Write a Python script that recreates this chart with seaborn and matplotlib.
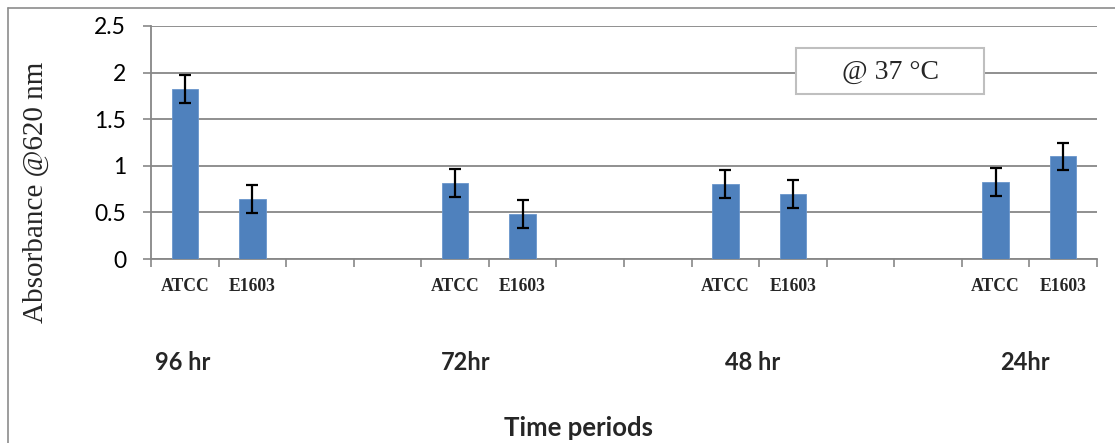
import matplotlib
matplotlib.use("Agg")
import matplotlib.pyplot as plt
import seaborn as sns
import pandas as pd
import numpy as np
from matplotlib.patches import Rectangle
from matplotlib.lines import Line2D
from matplotlib.ticker import FixedLocator

# ---- data ----
groups = ["96 hr", "72hr", "48 hr", "24hr"]
strains = ["ATCC", "E1603"]
atcc_values = [1.82, 0.82, 0.80, 0.83]
e1603_values = [0.64, 0.48, 0.70, 1.10]
atcc_err = [0.15, 0.15, 0.15, 0.15]
e1603_err = [0.15, 0.15, 0.15, 0.15]
y_ticks = [0, 0.5, 1, 1.5, 2, 2.5]
y_tick_labels = ["0", "0.5", "1", "1.5", "2", "2.5"]
y_label = "Absorbance @620 nm"
x_label = "Time periods"
note = "@ 37 °C"

# ---- layout constants ----
W, H = 1115, 443
group_label_x = [-0.03, 4.15, 8.41, 12.43]   # data-x positions of group names
blank_slots_between = 2

sns.set_theme(style="white")
plt.rcParams["font.family"] = ["Lato", "DejaVu Sans"]

# build the slot order (bars + empty gap slots)
rows = []
order = []
for gi, g in enumerate(groups):
    for s, v, e in zip(strains, [atcc_values[gi], e1603_values[gi]],
                       [atcc_err[gi], e1603_err[gi]]):
        key = f"{g}|{s}"
        order.append(key)
        rows.append({"slot": key, "value": v, "err": e, "strain": s})
    if gi < len(groups) - 1:
        for b in range(blank_slots_between):
            order.append(f"gap{gi}_{b}")
df = pd.DataFrame(rows)

fig = plt.figure(figsize=(W / 100, H / 100), dpi=100)
ax = fig.add_axes([151 / W, 1 - 259 / H, (1097 - 151) / W, (259 - 26) / H])

sns.barplot(data=df, x="slot", y="value", order=order, color="#4F81BD",
            saturation=1, width=0.39, errorbar=None, ax=ax,
            edgecolor="#6a96cc", linewidth=0.6, zorder=3)

# error bars on the drawn bars
bar_patches = [p for p in ax.patches if p.get_height() > 0]
centers = [p.get_x() + p.get_width() / 2 for p in bar_patches]
heights = [p.get_height() for p in bar_patches]
ax.errorbar(centers, heights, yerr=df["err"].values, fmt="none",
            ecolor="black", elinewidth=1.6, capsize=4.6, capthick=1.6, zorder=4)

ax.set_xlim(-0.5, len(order) - 0.5)
ax.set_ylim(0, 2.5)
ax.set_yticks(y_ticks)
ax.set_yticklabels(y_tick_labels, fontsize=16.5, color="black")
ax.yaxis.grid(True, color="#878787", linewidth=1.3)
ax.set_axisbelow(True)

# x ticks: labels at bars, tick marks at slot boundaries
bar_pos = [order.index(k) for k in df["slot"]]
ax.set_xticks(bar_pos)
ax.set_xticklabels(df["strain"], fontsize=12.7, fontweight="bold",
                   family=["Liberation Serif", "DejaVu Serif"])
ax.xaxis.set_minor_locator(FixedLocator(np.arange(-0.5, len(order), 1.0)))
ax.tick_params(axis="x", which="major", length=0, pad=14)
ax.tick_params(axis="x", which="minor", length=5.5, width=1.2,
               color="#878787", direction="out", bottom=True)
ax.tick_params(axis="y", which="major", length=6, width=1.2,
               color="#878787", direction="out", left=True, pad=12)
ax.set_xlabel("")
ax.set_ylabel("")

for side in ["top", "right"]:
    ax.spines[side].set_visible(False)
for side in ["left", "bottom"]:
    ax.spines[side].set_color("#878787")
    ax.spines[side].set_linewidth(1.3)

# group labels
for gx, g in zip(group_label_x, groups):
    ax.text(gx, -(363 - 259) / (259 - 26) * 2.5, g, ha="center", va="center",
            fontsize=17, fontweight="bold", clip_on=False)

# axis titles
fig.text(36 / W, 1 - 192 / H, y_label, rotation=90, ha="center", va="center",
         fontsize=21, family=["Liberation Serif", "DejaVu Serif"])
fig.text(578 / W, 1 - 428 / H, x_label, ha="center", va="center",
         fontsize=18.5, fontweight="bold")

# annotation box
ax.add_patch(Rectangle((796 / W, 1 - 94 / H), 188 / W, 46 / H,
                       transform=fig.transFigure, facecolor="white",
                       edgecolor="#bfbfbf", linewidth=1.5, clip_on=False,
                       zorder=6))
ax.text(890 / W, 1 - 72 / H, note, transform=fig.transFigure, ha="center",
        va="center", fontsize=20, family=["Liberation Serif", "DejaVu Serif"],
        zorder=7)

# outer chart frame (cropped at right and bottom)
fig.add_artist(Line2D([8 / W, 1.0], [1 - 8 / H, 1 - 8 / H],
                      transform=fig.transFigure, color="#8c8c8c", lw=1.2))
fig.add_artist(Line2D([8 / W, 8 / W], [0.0, 1 - 8 / H],
                      transform=fig.transFigure, color="#8c8c8c", lw=1.2))

fig.savefig("out.png", dpi=100, facecolor="white")
